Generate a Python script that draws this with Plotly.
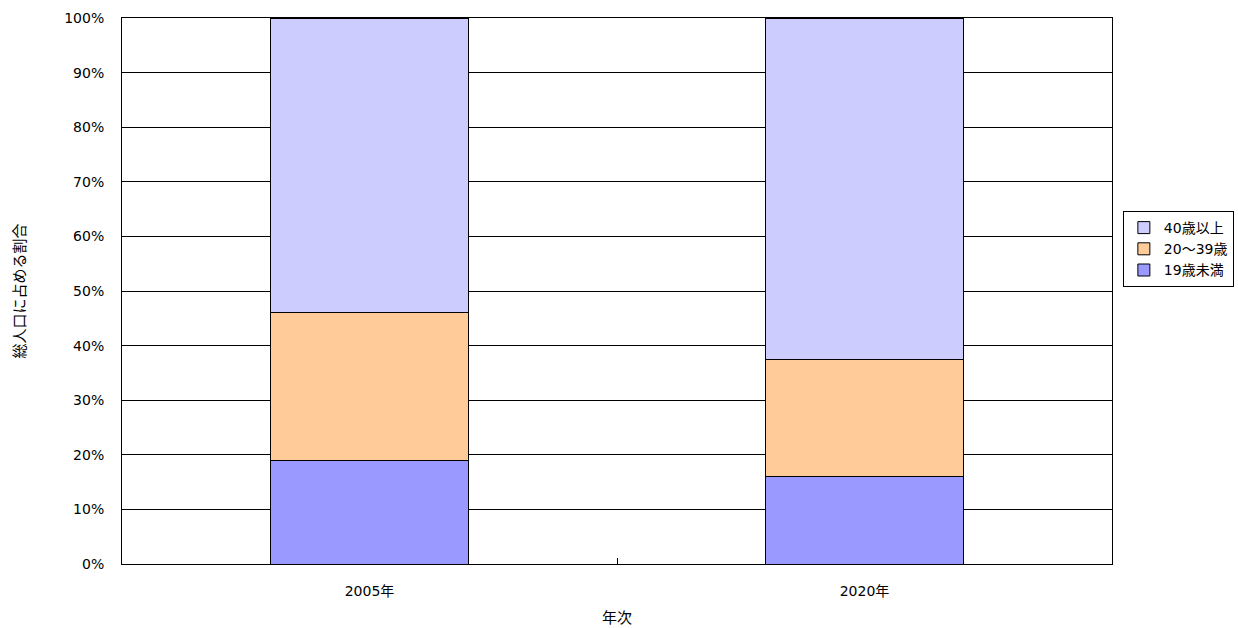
import plotly.graph_objects as go

# 年次別・年齢階級別の総人口に占める割合（%）
years = ["2005年", "2020年"]
under_19 = [18.9, 16.1]
age_20_39 = [27.2, 21.4]
over_40 = [53.9, 62.5]

series_names = ["19歳未満", "20～39歳", "40歳以上"]
series_values = [under_19, age_20_39, over_40]
series_colors = ["#9999FF", "#FFCC99", "#CCCCFF"]

FONT = "DejaVu Sans, Noto Sans CJK JP, sans-serif"

fig = go.Figure()
for name, vals, color in zip(series_names, series_values, series_colors):
    fig.add_trace(go.Bar(
        x=years,
        y=vals,
        name=name,
        marker=dict(color=color, line=dict(color="#000000", width=1)),
        hoverinfo="x+y+name",
    ))

fig.update_layout(
    width=1238,
    height=628,
    barmode="stack",
    bargap=0.6,
    paper_bgcolor="white",
    plot_bgcolor="white",
    margin=dict(l=122, r=126, t=18, b=64, autoexpand=False),
    font=dict(family=FONT, size=14, color="#000000"),
    legend=dict(
        xref="container", yref="container",
        x=0.907, xanchor="left",
        y=0.664, yanchor="top",
        traceorder="reversed",
        bordercolor="#000000",
        borderwidth=1,
        bgcolor="white",
        itemwidth=30,
        font=dict(family=FONT, size=14),
    ),
    xaxis=dict(
        title=dict(text="年次", font=dict(family=FONT, size=15), standoff=14),
        automargin=False,
        showline=True, linecolor="#000000", linewidth=1, mirror=True,
        ticks="inside", tickson="boundaries", ticklen=6, tickcolor="#000000",
        ticklabelstandoff=14,
        showgrid=False,
    ),
    yaxis=dict(
        title=dict(text="総人口に占める割合", font=dict(family=FONT, size=15), standoff=34),
        automargin=False,
        range=[0, 100],
        dtick=10,
        ticksuffix="%",
        showline=True, linecolor="#000000", linewidth=1, mirror=True,
        showgrid=True, gridcolor="#000000", gridwidth=1,
        ticks="", ticklabelstandoff=14,
        zeroline=False,
    ),
)

fig.write_html("out.html")
